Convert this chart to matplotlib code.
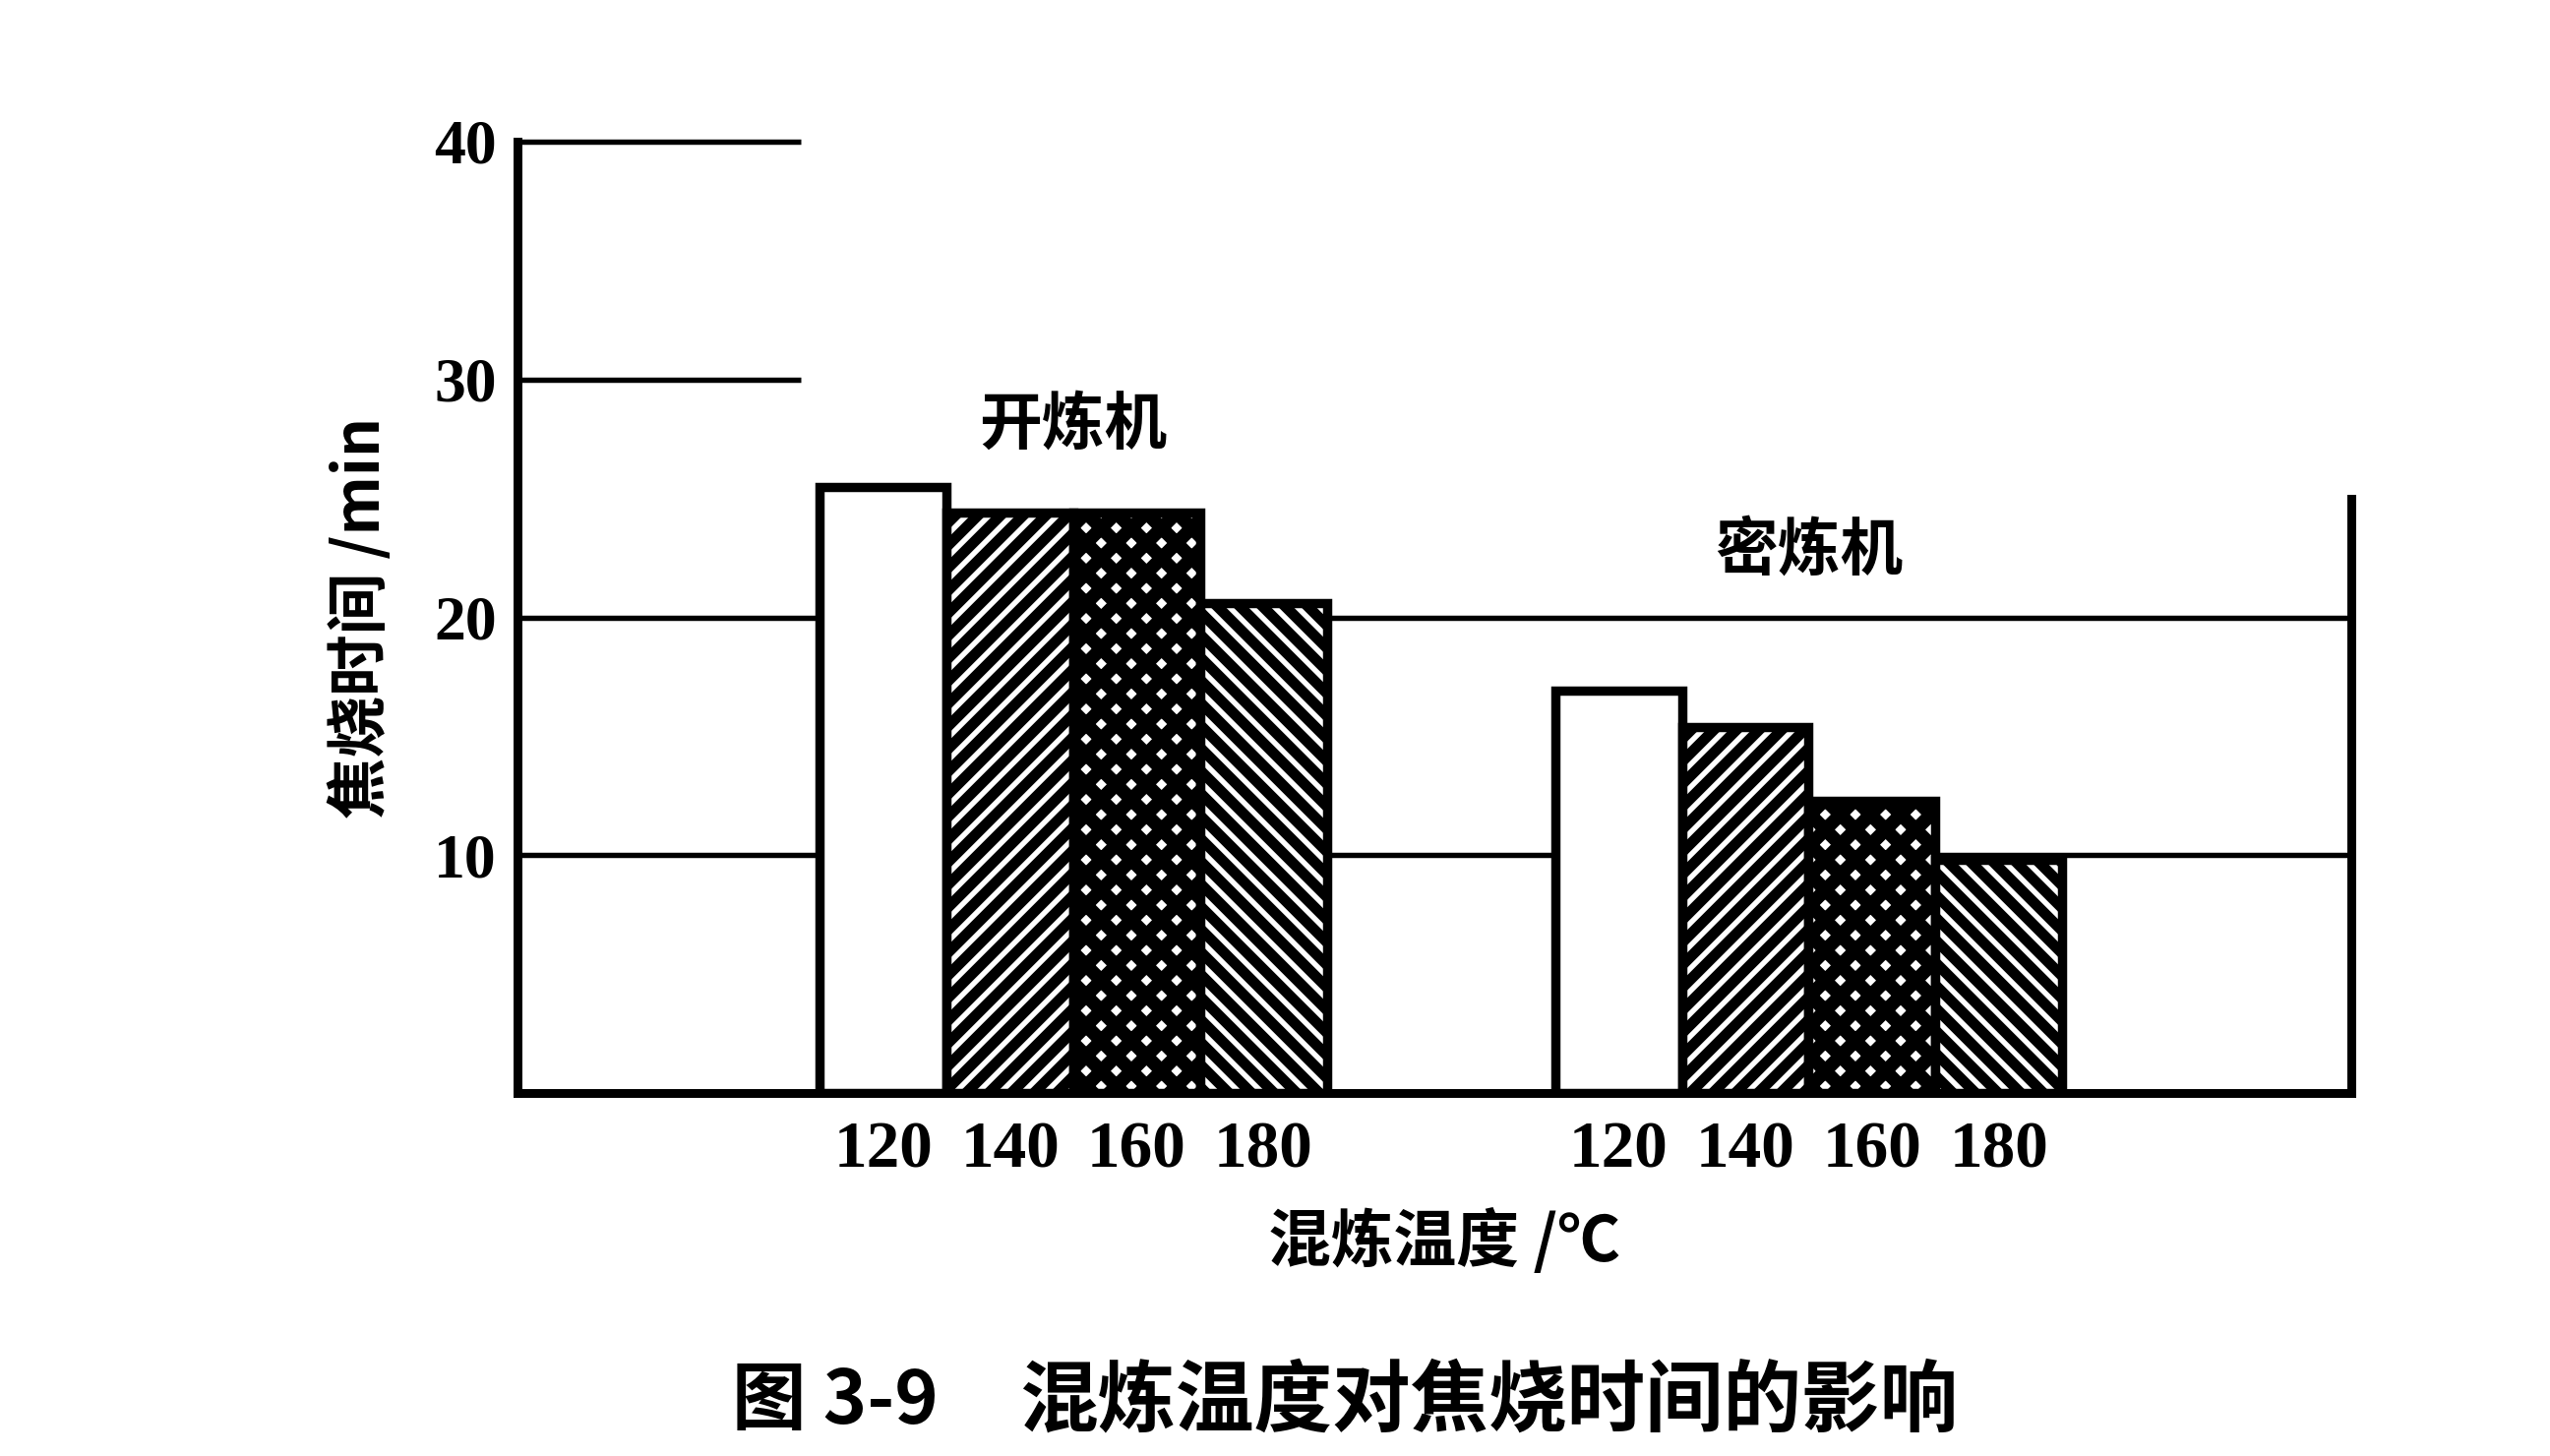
import matplotlib
matplotlib.use('Agg')
import matplotlib.pyplot as plt
import numpy as np

# ---------------- data ----------------
temps = ['120', '140', '160', '180']
group_names = ['开炼机', '密炼机']
open_mill = [25.5, 24.4, 24.4, 20.6]        # 开炼机
internal_mixer = [16.9, 15.4, 12.3, 9.8]    # 密炼机
yticks = [10, 20, 30, 40]
xlabel = '混炼温度 /℃'
ylabel = '焦烧时间 /min'
title_num = '图 3-9'
title_text = '混炼温度对焦烧时间的影响'

# ---------------- style ----------------
# dpi chosen so that the hatch density (tied to dpi) matches the reference;
# all point sizes are expressed relative to 170 dpi and scaled by K.
DPI = 276
K = 170.0 / DPI
W, H = 2592, 1480

plt.rcParams['font.family'] = ['Noto Sans CJK SC', 'DejaVu Sans']
plt.rcParams['font.weight'] = 'bold'
plt.rcParams['hatch.linewidth'] = 4.5 * K
NUMFONT = dict(family='Liberation Serif', weight='bold')

fig = plt.figure(figsize=(W / DPI, H / DPI), dpi=DPI)
fig.patch.set_facecolor('white')
ax = fig.add_axes([526 / W, 1 - 1111 / H, (2390 - 526) / W, (1111 - 144) / H])

XMIN, XMAX = -2.885, 11.58
group_offsets = [0.0, 5.8]
hatches = [None, '////', 'xxx', '\\\\\\\\']
hatch_lws = [4.5 * K, 4.6 * K, 5.8 * K, 4.6 * K]

all_pos = []
all_labels = []
for g, vals in enumerate([open_mill, internal_mixer]):
    xs = group_offsets[g] + np.arange(len(temps))
    for i, (x, v) in enumerate(zip(xs, vals)):
        with plt.rc_context({'hatch.linewidth': hatch_lws[i]}):
            bars = ax.bar(x, v, width=1.0, color='white', edgecolor='black',
                          linewidth=4.0 * K, hatch=hatches[i], zorder=3)
        for p in bars.patches:
            if hasattr(p, 'set_hatch_linewidth'):
                p.set_hatch_linewidth(hatch_lws[i])
        all_pos.append(x)
        all_labels.append(temps[i])
    ax.text(xs.mean(), [28.1, 22.8][g], group_names[g], ha='center', va='center',
            fontsize=27 * K, fontweight='bold', zorder=5)

ax.set_xlim(XMIN, XMAX)
ax.set_ylim(0, 40)

# horizontal reference lines
for y in yticks:
    xend = XMAX if y <= 20 else -0.65
    ax.hlines(y, XMIN, xend, colors='black', linewidth=2.3 * K, zorder=1, clip_on=False)

# spines
ax.spines['top'].set_visible(False)
for s in ['left', 'bottom', 'right']:
    ax.spines[s].set_linewidth(3.8 * K)
    ax.spines[s].set_color('black')
ax.spines['right'].set_bounds(0, 25)

ax.set_xticks(all_pos)
ax.set_xticklabels(all_labels, **NUMFONT)
ax.set_yticks(yticks)
ax.set_yticklabels([str(t) for t in yticks], **NUMFONT)
ax.tick_params(axis='x', length=0, pad=12 * K, labelsize=28.5 * K)
ax.tick_params(axis='y', length=0, pad=9 * K, labelsize=27 * K)

fig.text(1468 / W, 1 - 1262 / H, xlabel, ha='center', va='center', fontsize=27 * K, fontweight='bold')
fig.text(367 / W, 1 - 628 / H, ylabel, ha='center', va='center', rotation=90,
         fontsize=26.5 * K, fontweight='bold')
fig.text(744 / W, 1 - 1425 / H, title_num, ha='left', va='center', fontsize=32 * K, fontweight='bold')
fig.text(1036 / W, 1 - 1425 / H, title_text, ha='left', va='center', fontsize=33.7 * K, fontweight='bold')

fig.savefig('out.png', dpi=DPI, facecolor='white')
